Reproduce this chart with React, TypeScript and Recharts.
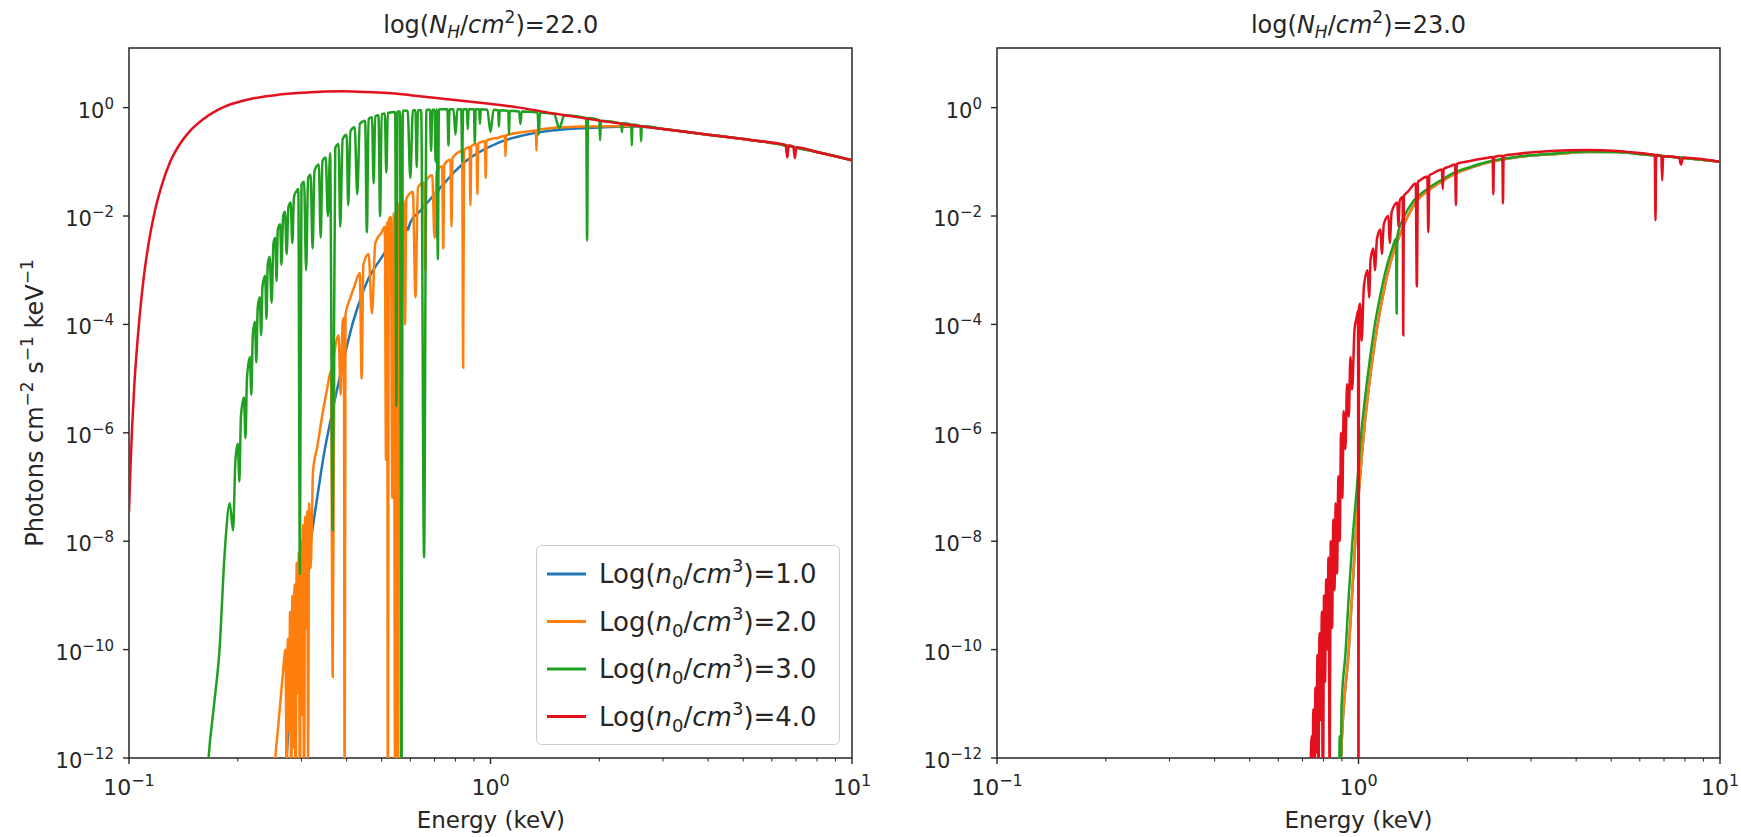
import { Legend, Line, LineChart, ReferenceArea, XAxis, YAxis } from "recharts";

// Spectra: each row is [energy keV, log10(photons cm^-2 s^-1 keV^-1)]

// log(N_H)=22.0
const nh22Dens1: [number, number][] = [
  [0.266, -14], [0.273, -12], [0.283, -10.5], [0.296, -9.3], [0.31, -8.5], [0.323, -7.7],
  [0.335, -7.0], [0.346, -6.4], [0.359, -5.85], [0.372, -5.35], [0.385, -4.9], [0.399, -4.45],
  [0.415, -4.0], [0.436, -3.55], [0.46, -3.15], [0.49, -2.85], [0.52, -2.6], [0.55, -2.4],
  [0.575, -2.25], [0.585, -2.2], [0.59, -2.26], [0.6, -2.12], [0.64, -1.9], [0.69, -1.65],
  [0.705, -1.58], [0.71, -2.4], [0.715, -1.55], [0.74, -1.42], [0.85, -1.0], [1.05, -0.65],
  [1.3, -0.48], [1.8, -0.38], [2.55, -0.35], [3.04, -0.4], [4.0, -0.5], [5.0, -0.58],
  [5.74, -0.63], [8, -0.82], [10, -0.97],
];

const nh22Dens2: [number, number][] = [
  [0.25, -13], [0.254, -12], [0.258, -11.5], [0.262, -11], [0.266, -10.5], [0.271, -10],
  [0.273, -12.5], [0.275, -9.8], [0.277, -11.5], [0.279, -9.3], [0.281, -13], [0.283, -9.0],
  [0.285, -11.8], [0.287, -8.8], [0.289, -13], [0.291, -8.4], [0.293, -10.8], [0.295, -8.2],
  [0.297, -13], [0.299, -8.0], [0.301, -11.2], [0.303, -7.7], [0.305, -13], [0.307, -7.55],
  [0.309, -9.6], [0.311, -7.45], [0.313, -12], [0.315, -7.3], [0.318, -8.5], [0.323, -6.7],
  [0.332, -6.25], [0.34, -5.8], [0.353, -5.2], [0.362, -4.85], [0.366, -10.5], [0.37, -4.55],
  [0.38, -4.2], [0.385, -5.3], [0.39, -3.95], [0.393, -3.88], [0.395, -13.5], [0.397, -3.82],
  [0.41, -3.5], [0.42, -3.3], [0.435, -3.05], [0.44, -5.0], [0.445, -2.9], [0.46, -2.7],
  [0.47, -3.8], [0.48, -2.5], [0.5, -2.3], [0.51, -2.2], [0.514, -6.5], [0.518, -2.12],
  [0.52, -13.5], [0.523, -2.08], [0.53, -2.02], [0.535, -7.2], [0.54, -1.95], [0.545, -13.5],
  [0.55, -1.88], [0.555, -13.5], [0.558, -1.8], [0.575, -1.72], [0.58, -4.0], [0.585, -1.68],
  [0.61, -1.55], [0.62, -3.5], [0.63, -1.47], [0.655, -1.38], [0.66, -3.0], [0.665, -1.34],
  [0.69, -1.25], [0.7, -2.4], [0.71, -1.18], [0.735, -1.08], [0.74, -2.6], [0.745, -1.05],
  [0.775, -0.96], [0.78, -2.2], [0.785, -0.93], [0.835, -0.8], [0.84, -4.8], [0.845, -0.78],
  [0.853, -0.76], [0.875, -0.72], [0.88, -1.8], [0.885, -0.71], [0.915, -0.67], [0.92, -1.6],
  [0.925, -0.66], [0.965, -0.62], [0.97, -1.3], [0.975, -0.61], [1.055, -0.55], [1.095, -0.52],
  [1.1, -0.9], [1.105, -0.51], [1.3, -0.43], [1.335, -0.42], [1.34, -0.79], [1.345, -0.41],
  [1.79, -0.35], [2.55, -0.34], [3.04, -0.4], [4.0, -0.5], [5.0, -0.58], [5.74, -0.63],
  [8, -0.82], [10, -0.97],
];

const nh22Dens3: [number, number][] = [
  [0.16, -14], [0.166, -12], [0.172, -11], [0.178, -10], [0.184, -8.2], [0.19, -7.3],
  [0.194, -7.8], [0.197, -6.5], [0.2, -6.2], [0.202, -6.9], [0.204, -5.7], [0.208, -5.35],
  [0.21, -6.1], [0.212, -5.0], [0.216, -4.6], [0.218, -5.3], [0.22, -4.2], [0.223, -3.95],
  [0.225, -4.7], [0.227, -3.7], [0.23, -3.5], [0.232, -4.2], [0.234, -3.3], [0.238, -3.1],
  [0.24, -3.9], [0.242, -2.9], [0.245, -2.75], [0.248, -3.6], [0.251, -2.5], [0.254, -2.4],
  [0.256, -3.2], [0.258, -2.25], [0.262, -2.15], [0.264, -2.9], [0.267, -2.0], [0.27, -1.92],
  [0.273, -2.7], [0.276, -1.84], [0.28, -1.75], [0.283, -2.5], [0.286, -1.65], [0.29, -1.55],
  [0.294, -1.5], [0.297, -8.6], [0.3, -1.42], [0.305, -1.37], [0.309, -3.0], [0.313, -1.3],
  [0.318, -1.24], [0.322, -2.6], [0.326, -1.16], [0.335, -1.05], [0.339, -2.4], [0.343, -0.98],
  [0.35, -0.92], [0.355, -2.0], [0.36, -0.84], [0.366, -7.8], [0.372, -0.74], [0.38, -0.67],
  [0.384, -2.2], [0.39, -0.58], [0.4, -0.5], [0.404, -1.8], [0.41, -0.43], [0.421, -0.36],
  [0.428, -1.6], [0.435, -0.3], [0.45, -0.24], [0.455, -2.3], [0.46, -0.21], [0.47, -0.18],
  [0.475, -1.4], [0.48, -0.16], [0.49, -0.14], [0.495, -2.0], [0.5, -0.12], [0.51, -0.11],
  [0.515, -1.2], [0.52, -0.1], [0.53, -0.09], [0.545, -0.08], [0.549, -5.5], [0.553, -0.07],
  [0.562, -0.07], [0.567, -13.5], [0.572, -0.06], [0.59, -0.06], [0.6, -1.3], [0.61, -0.05],
  [0.62, -0.05], [0.625, -1.1], [0.63, -0.05], [0.643, -0.05], [0.655, -8.3], [0.665, -0.04],
  [0.68, -0.04], [0.685, -0.8], [0.69, -0.04], [0.7, -0.04], [0.705, -1.0], [0.71, -0.03],
  [0.715, -2.8], [0.72, -0.03], [0.74, -0.03], [0.76, -0.03], [0.765, -0.7], [0.77, -0.03],
  [0.79, -0.03], [0.8, -0.5], [0.81, -0.03], [0.83, -0.03], [0.835, -1.0], [0.84, -0.03],
  [0.86, -0.03], [0.865, -0.4], [0.87, -0.03], [0.9, -0.03], [0.905, -0.65], [0.91, -0.03],
  [0.93, -0.03], [0.935, -0.3], [0.94, -0.03], [0.98, -0.04], [1.0, -0.45], [1.02, -0.04],
  [1.05, -0.05], [1.055, -0.35], [1.06, -0.05], [1.12, -0.06], [1.125, -0.5], [1.13, -0.06],
  [1.2, -0.07], [1.21, -0.3], [1.22, -0.07], [1.35, -0.09], [1.36, -0.5], [1.37, -0.09],
  [1.5, -0.12], [1.55, -0.38], [1.6, -0.14], [1.84, -0.19], [1.85, -2.45], [1.86, -0.19],
  [2.0, -0.23], [2.01, -0.6], [2.02, -0.24], [2.3, -0.29], [2.31, -0.45], [2.32, -0.29],
  [2.45, -0.31], [2.46, -0.7], [2.47, -0.31], [2.6, -0.34], [2.61, -0.62], [2.62, -0.34],
  [3.04, -0.4], [4.0, -0.5], [5.0, -0.58], [5.74, -0.63], [8, -0.82], [10, -0.97],
];

const nh22Dens4: [number, number][] = [
  [0.1, -7.46], [0.101, -6.6], [0.102, -5.9], [0.1035, -5.1], [0.105, -4.5], [0.107, -3.85],
  [0.11, -3.1], [0.114, -2.4], [0.118, -1.9], [0.123, -1.45], [0.13, -1.0], [0.138, -0.68],
  [0.148, -0.42], [0.16, -0.22], [0.175, -0.05], [0.195, 0.08], [0.22, 0.17], [0.26, 0.24],
  [0.31, 0.28], [0.39, 0.3], [0.45, 0.29], [0.52, 0.27], [0.6, 0.23], [0.75, 0.16],
  [0.98, 0.074], [1.2, 0.0], [1.5, -0.11], [2.0, -0.24], [2.5, -0.33], [3.04, -0.4],
  [4.0, -0.5], [5.0, -0.58], [5.74, -0.63], [6.55, -0.69], [6.62, -0.92], [6.69, -0.7],
  [6.88, -0.72], [6.95, -0.93], [7.02, -0.73], [8, -0.82], [10, -0.97],
];

// log(N_H)=23.0
const nh23Dens1: [number, number][] = [
  [0.88, -14], [0.895, -12], [0.94, -10], [0.98, -8], [1.035, -6], [1.09, -4.7],
  [1.13, -4.0], [1.17, -3.45], [1.21, -3.0], [1.26, -2.6], [1.31, -2.3], [1.37, -2.0],
  [1.45, -1.72], [1.58, -1.5], [1.73, -1.33], [1.88, -1.2], [2.08, -1.09], [2.32, -1.0],
  [2.65, -0.93], [3.05, -0.88], [3.6, -0.85], [4.3, -0.82], [5.2, -0.82], [6.3, -0.87],
  [8, -0.93], [10, -1.0],
];

const nh23Dens2: [number, number][] = [
  [0.88, -14], [0.895, -12], [0.94, -10], [0.98, -8], [1.035, -6], [1.09, -4.7],
  [1.13, -4.0], [1.17, -3.45], [1.21, -3.0], [1.26, -2.6], [1.31, -2.3], [1.37, -2.0],
  [1.45, -1.72], [1.58, -1.5], [1.73, -1.33], [1.88, -1.2], [2.08, -1.09], [2.32, -1.0],
  [2.65, -0.93], [3.05, -0.88], [3.6, -0.85], [4.3, -0.82], [5.2, -0.82], [6.3, -0.87],
  [8, -0.93], [10, -1.0],
];

const nh23Dens3: [number, number][] = [
  [0.86, -14], [0.877, -12], [0.882, -13.5], [0.887, -11.6], [0.892, -13.2], [0.897, -11.1],
  [0.922, -10], [0.94, -9.0], [0.962, -8], [0.99, -7.0], [1.018, -6], [1.045, -5.3],
  [1.075, -4.65], [1.11, -4.0], [1.15, -3.45], [1.19, -3.0], [1.24, -2.6], [1.27, -2.42],
  [1.275, -3.8], [1.28, -2.38], [1.34, -2.0], [1.42, -1.72], [1.55, -1.5], [1.7, -1.33],
  [1.84, -1.2], [2.05, -1.09], [2.28, -1.0], [2.6, -0.93], [3.0, -0.88], [3.6, -0.84],
  [4.3, -0.81], [5.2, -0.82], [6.3, -0.87], [8, -0.93], [10, -1.0],
];

const nh23Dens4: [number, number][] = [
  [0.725, -14], [0.735, -12.5], [0.742, -11.6], [0.745, -13.5], [0.75, -11.1], [0.755, -12.8],
  [0.76, -10.7], [0.765, -11.9], [0.77, -10.1], [0.775, -12.5], [0.78, -9.7], [0.786, -11.3],
  [0.792, -9.3], [0.797, -13.5], [0.803, -9.0], [0.808, -10.6], [0.814, -8.7], [0.82, -10.0],
  [0.826, -8.3], [0.832, -12.2], [0.838, -8.0], [0.845, -9.6], [0.852, -7.6], [0.858, -8.9],
  [0.865, -7.3], [0.872, -8.6], [0.88, -6.8], [0.887, -8.0], [0.895, -6.0], [0.902, -7.2],
  [0.91, -5.6], [0.92, -6.3], [0.93, -5.1], [0.94, -5.7], [0.95, -4.6], [0.96, -5.2],
  [0.975, -4.1], [0.99, -3.85], [0.997, -3.75], [1.0, -13.5], [1.003, -3.7], [1.01, -3.62],
  [1.02, -4.3], [1.035, -3.3], [1.06, -3.0], [1.07, -3.5], [1.08, -2.8], [1.1, -2.6],
  [1.11, -3.0], [1.125, -2.42], [1.15, -2.25], [1.16, -2.7], [1.175, -2.15], [1.21, -2.0],
  [1.22, -2.5], [1.235, -1.93], [1.28, -1.75], [1.29, -2.2], [1.3, -1.72], [1.325, -1.65],
  [1.33, -4.2], [1.335, -1.63], [1.37, -1.55], [1.44, -1.4], [1.45, -3.3], [1.46, -1.37],
  [1.48, -1.34], [1.55, -1.27], [1.56, -2.3], [1.57, -1.25], [1.6, -1.22], [1.7, -1.14],
  [1.71, -1.5], [1.72, -1.13], [1.78, -1.09], [1.85, -1.05], [1.86, -1.8], [1.87, -1.04],
  [1.98, -1.0], [2.3, -0.92], [2.35, -0.91], [2.36, -1.6], [2.37, -0.91], [2.5, -0.89],
  [2.51, -1.77], [2.52, -0.89], [2.7, -0.86], [3.4, -0.8], [4.3, -0.78], [5.2, -0.8],
  [6.3, -0.855], [6.6, -0.87], [6.63, -2.08], [6.66, -0.875], [6.88, -0.89], [6.92, -1.34],
  [6.96, -0.895], [7.7, -0.92], [7.8, -1.05], [7.9, -0.925], [10, -1.0],
];

const DENSITIES = ["1.0", "2.0", "3.0", "4.0"];
const COLORS = ["#1f77b4", "#ff7f0e", "#20a020", "#e3101e"];
const NH_VALUES = ["22.0", "23.0"];
const X_TICKS = [0.1, 0.2, 0.3, 0.4, 0.5, 0.6, 0.7, 0.8, 0.9, 1, 2, 3, 4, 5, 6, 7, 8, 9, 10];
const X_MAJOR = [0.1, 1, 10];
const Y_TICKS = [1, 1e-2, 1e-4, 1e-6, 1e-8, 1e-10, 1e-12];
const Y_TOP = 10 ** 1.1;

const W = 1741;
const H = 837;
const FONT = "'DejaVu Sans', sans-serif";
const INK = "#262626";

const toPoints = (rows: [number, number][]) => rows.map(([e, lg]) => ({ e, y: 10 ** lg }));

const panels = [
  { nh: NH_VALUES[0], series: [nh22Dens1, nh22Dens2, nh22Dens3, nh22Dens4], left: 0, width: 870, axisW: 129, right: 18, legend: true },
  { nh: NH_VALUES[1], series: [nh23Dens1, nh23Dens2, nh23Dens3, nh23Dens4], left: 870, width: 871, axisW: 127, right: 21, legend: false },
];

const expText = (v: number) => {
  const p = Math.round(Math.log10(v));
  return p < 0 ? `\u2212${-p}` : `${p}`;
};

function XTick(props: any) {
  const { x, y, payload } = props;
  const major = X_MAJOR.includes(payload.value);
  return (
    <g>
      <line x1={x} x2={x} y1={y} y2={y + (major ? 6 : 3.5)} stroke={INK} strokeWidth={major ? 1.4 : 1} />
      {major && (
        <text x={x} y={y + 37} textAnchor="middle" fontSize={22} fontFamily={FONT} fill={INK}>
          10<tspan dy={-9} fontSize={16}>{expText(payload.value)}</tspan>
        </text>
      )}
    </g>
  );
}

function YTick(props: any) {
  const { x, y, payload } = props;
  return (
    <g>
      <line x1={x} x2={x - 6} y1={y} y2={y} stroke={INK} strokeWidth={1.4} />
      <text x={x - 15} y={y + 10} textAnchor="end" fontSize={21} fontFamily={FONT} fill={INK}>
        10<tspan dy={-9} fontSize={15}>{expText(payload.value)}</tspan>
      </text>
    </g>
  );
}

function LegendBox() {
  return (
    <svg width={305} height={201} style={{ display: "block" }}>
      <rect x={0.5} y={0.5} width={303} height={199} rx={5} fill="#ffffff" fillOpacity={0.8} stroke="#cccccc" />
      {DENSITIES.map((d, i) => {
        const cy = 29 + i * 47.5;
        return (
          <g key={d}>
            <line x1={11} x2={50} y1={cy} y2={cy} stroke={COLORS[i]} strokeWidth={3} />
            <text x={63} y={cy + 9} fontSize={26} fontFamily={FONT} fill={INK}>
              Log(<tspan fontStyle="italic">n</tspan>
              <tspan fontSize={18} dy={6}>0</tspan>
              <tspan dy={-6}>/</tspan>
              <tspan fontStyle="italic">cm</tspan>
              <tspan fontSize={18} dy={-11}>3</tspan>
              <tspan dy={11}>)={d}</tspan>
            </text>
          </g>
        );
      })}
    </svg>
  );
}

function Panel({ p }: { p: (typeof panels)[number] }) {
  return (
    <div style={{ position: "absolute", left: p.left, top: 0, width: p.width, height: H }}>
      <LineChart width={p.width} height={H} margin={{ top: 48, right: p.right, bottom: 0, left: 0 }}>
        <XAxis
          dataKey="e"
          type="number"
          scale="log"
          domain={[0.1, 10]}
          allowDataOverflow
          ticks={X_TICKS}
          interval={0}
          tick={(t: any) => <XTick {...t} />}
          tickLine={false}
          tickSize={0}
          tickMargin={0}
          axisLine={false}
          height={79}
        />
        <YAxis
          dataKey="y"
          type="number"
          scale="log"
          domain={[1e-12, Y_TOP]}
          allowDataOverflow
          ticks={Y_TICKS}
          interval={0}
          tick={(t: any) => <YTick {...t} />}
          tickLine={false}
          tickSize={0}
          tickMargin={0}
          axisLine={false}
          width={p.axisW}
        />
        {p.series.map((rows, i) => (
          <Line
            key={DENSITIES[i]}
            data={toPoints(rows)}
            dataKey="y"
            name={`Log(n0/cm3)=${DENSITIES[i]}`}
            type="monotone"
            stroke={COLORS[i]}
            strokeWidth={2.5}
            dot={false}
            activeDot={false}
            isAnimationActive={false}
          />
        ))}
        <ReferenceArea x1={0.1} x2={10} y1={1e-12} y2={Y_TOP} fill="none" stroke={INK} strokeWidth={1.5} />
        {p.legend && (
          <Legend
            layout="vertical"
            align="center"
            verticalAlign="middle"
            wrapperStyle={{ left: 536, top: 545, width: 305, height: 201 }}
            content={() => <LegendBox />}
          />
        )}
      </LineChart>
    </div>
  );
}

function Overlay() {
  const centers = [490.8, 1358.5];
  return (
    <svg width={W} height={H} style={{ position: "absolute", left: 0, top: 0, pointerEvents: "none" }}>
      {centers.map((cx, i) => (
        <g key={cx}>
          <text x={cx} y={33} textAnchor="middle" fontSize={24} fontFamily={FONT} fill={INK}>
            log(<tspan fontStyle="italic">N</tspan>
            <tspan fontStyle="italic" fontSize={17} dy={5}>H</tspan>
            <tspan dy={-5}>/</tspan>
            <tspan fontStyle="italic">cm</tspan>
            <tspan fontSize={17} dy={-10}>2</tspan>
            <tspan dy={10}>)={NH_VALUES[i]}</tspan>
          </text>
          <text x={cx} y={828} textAnchor="middle" fontSize={23} fontFamily={FONT} fill={INK}>
            Energy (keV)
          </text>
        </g>
      ))}
      <text x={43} y={403} transform="rotate(-90 43 403)" textAnchor="middle" fontSize={24} fontFamily={FONT} fill={INK}>
        Photons cm<tspan fontSize={17} dy={-10}>{"\u22122"}</tspan>
        <tspan dy={10}> s</tspan>
        <tspan fontSize={17} dy={-10}>{"\u22121"}</tspan>
        <tspan dy={10}> keV</tspan>
        <tspan fontSize={17} dy={-10}>{"\u22121"}</tspan>
      </text>
    </svg>
  );
}

export default function App() {
  return (
    <div style={{ position: "absolute", left: 0, top: 0, width: W, height: H, background: "#ffffff" }}>
      {panels.map((p) => (
        <Panel key={p.nh} p={p} />
      ))}
      <Overlay />
    </div>
  );
}
